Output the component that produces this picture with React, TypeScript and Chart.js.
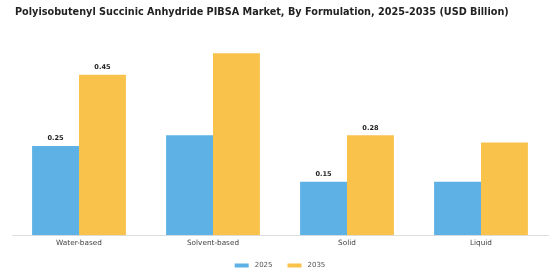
import React, { useEffect, useRef } from "react";
import { Chart, registerables } from "chart.js";

Chart.register(...registerables);

const TITLE = "Polyisobutenyl Succinic Anhydride PIBSA Market, By Formulation, 2025-2035 (USD Billion)";
const categories = ["Water-based", "Solvent-based", "Solid", "Liquid"];
const values2025 = [0.25, 0.28, 0.15, 0.15];
const values2035 = [0.45, 0.51, 0.28, 0.26];
const labels2025: (string | null)[] = ["0.25", null, "0.15", null];
const labels2035: (string | null)[] = ["0.45", null, "0.28", null];
const seriesNames = ["2025", "2035"];
const colors = ["#5DB1E4", "#F9C24B"];

const valueLabelPlugin = {
  id: "valueLabels",
  afterDatasetsDraw(chart: any) {
    const ctx = chart.ctx;
    const lists = [labels2025, labels2035];
    ctx.save();
    ctx.font = "bold 6.6px 'DejaVu Sans'";
    ctx.fillStyle = "#222";
    ctx.textAlign = "center";
    ctx.textBaseline = "middle";
    chart.data.datasets.forEach((_: any, di: number) => {
      const meta = chart.getDatasetMeta(di);
      meta.data.forEach((bar: any, i: number) => {
        const t = lists[di][i];
        if (t) ctx.fillText(t, bar.x, bar.y - 7.5);
      });
    });
    ctx.restore();
  },
};

const titlePlugin = {
  id: "leftTitle",
  afterDraw(chart: any) {
    const ctx = chart.ctx;
    ctx.save();
    ctx.font = "bold 9.7px 'DejaVu Sans'";
    ctx.fillStyle = "#222";
    ctx.textAlign = "left";
    ctx.textBaseline = "middle";
    ctx.fillText(TITLE, 15, 12);
    ctx.restore();
  },
};

const legendPlugin = {
  id: "bottomLegend",
  afterDraw(chart: any) {
    const ctx = chart.ctx;
    ctx.save();
    ctx.font = "7px 'DejaVu Sans'";
    const boxW = 14;
    const boxH = 4;
    const gapBoxText = 6;
    const gapItems = 15;
    const widths = chart.data.datasets.map((d: any) => boxW + gapBoxText + ctx.measureText(d.label).width);
    const total = widths.reduce((a: number, b: number) => a + b, 0) + gapItems * (widths.length - 1);
    let x = chart.width / 2 - total / 2;
    const y = 265.5;
    chart.data.datasets.forEach((d: any, i: number) => {
      ctx.fillStyle = d.backgroundColor;
      ctx.fillRect(x, y - boxH / 2, boxW, boxH);
      ctx.fillStyle = "#555";
      ctx.textAlign = "left";
      ctx.textBaseline = "middle";
      ctx.fillText(d.label, x + boxW + gapBoxText, y);
      x += widths[i] + gapItems;
    });
    ctx.restore();
  },
};

export default function App() {
  const ref = useRef<HTMLCanvasElement>(null);
  useEffect(() => {
    const chart = new Chart(ref.current!, {
      type: "bar",
      data: {
        labels: categories,
        datasets: [
          { label: seriesNames[0], data: values2025, backgroundColor: colors[0] },
          { label: seriesNames[1], data: values2035, backgroundColor: colors[1] },
        ],
      },
      options: {
        animation: false,
        responsive: false,
        maintainAspectRatio: false,
        layout: { padding: { left: 12, right: 12, top: 39, bottom: 30 } },
        datasets: { bar: { categoryPercentage: 0.7, barPercentage: 1.0 } },
        plugins: {
          title: { display: false },
          legend: { display: false },
          tooltip: { enabled: false },
        },
        scales: {
          x: {
            grid: { display: false, drawTicks: false },
            border: { display: true, color: "#dddddd" },
            ticks: { color: "#444", font: { family: "'DejaVu Sans'", size: 7.3 }, padding: 3 },
          },
          y: {
            display: false,
            min: 0,
            max: 0.55,
          },
        },
      },
      plugins: [valueLabelPlugin, titlePlugin, legendPlugin],
    });
    return () => chart.destroy();
  }, []);
  return (
    <div style={{ position: "absolute", left: 0, top: 0, width: 560, height: 280, background: "#fff" }}>
      <canvas ref={ref} width={560} height={280} />
    </div>
  );
}
